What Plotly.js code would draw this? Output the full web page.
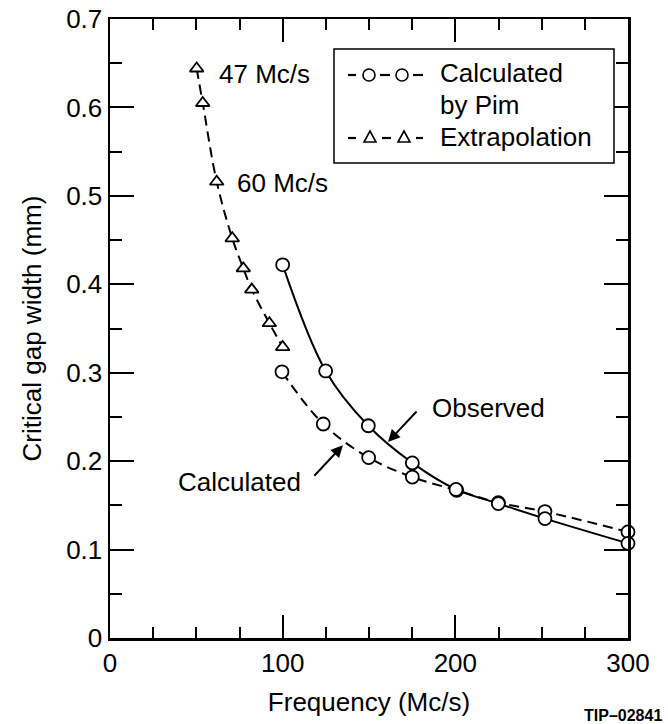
<!DOCTYPE html>
<html>
<head>
<meta charset="utf-8">
<script src="https://cdn.plot.ly/plotly-3.0.1.min.js"></script>
<style>html,body{margin:0;padding:0;background:#fff;}#chart{width:668px;height:724px;}</style>
</head>
<body>
<div id="chart"></div>
<script>
// Extrapolation (triangles)
const extrapFreq = [50.2, 53.7, 61.8, 70.8, 77.2, 82.1, 92.3, 100.0];
const extrapGap  = [0.644, 0.605, 0.516, 0.452, 0.418, 0.394, 0.356, 0.329];
// Observed (solid line, circles)
const obsFreq = [100.0, 124.9, 149.6, 175.1, 200.4, 224.9, 251.9, 300.0];
const obsGap  = [0.422, 0.302, 0.240, 0.198, 0.168, 0.152, 0.135, 0.107];
// Calculated by Pim (dashed line, circles)
const calcFreq = [99.6, 123.5, 149.8, 175.1, 200.8, 224.9, 251.9, 300.0];
const calcGap  = [0.301, 0.242, 0.204, 0.182, 0.167, 0.153, 0.143, 0.120];
// Tick labels
const xTicks = [0, 100, 200, 300];
const yTicks = [0, 0.1, 0.2, 0.3, 0.4, 0.5, 0.6, 0.7];
const yTickText = ['0', '0.1', '0.2', '0.3', '0.4', '0.5', '0.6', '0.7'];
// Legend entries
const legendNames = ['Calculated', 'by Pim', 'Extrapolation'];

const FONT = 'Liberation Sans, Arial, Helvetica, sans-serif';
const FS = 26;
const circ = {symbol: 'circle', size: 13, color: 'white', line: {color: 'black', width: 1.8}};
const tri  = {symbol: 'triangle-up', size: 12, color: 'white', line: {color: 'black', width: 1.8}};

const traces = [
  {x: calcFreq, y: calcGap, mode: 'lines+markers', name: 'Calculated by Pim', showlegend: false,
   line: {color: 'black', width: 2, dash: '10px,6px', shape: 'spline', smoothing: 1},
   marker: circ, cliponaxis: false},
  {x: extrapFreq, y: extrapGap, mode: 'lines+markers', name: 'Extrapolation', showlegend: false,
   line: {color: 'black', width: 2, dash: '10px,6px', shape: 'spline', smoothing: 1},
   marker: tri, cliponaxis: false},
  {x: obsFreq, y: obsGap, mode: 'lines+markers', name: 'Observed', showlegend: false,
   line: {color: 'black', width: 2, shape: 'spline', smoothing: 1},
   marker: circ, cliponaxis: false}
];

const axisCommon = {
  showline: true, linecolor: 'black', linewidth: 2.5, mirror: 'allticks',
  ticks: 'inside', tickwidth: 2, tickcolor: 'black',
  showgrid: false, zeroline: false, automargin: false,
  tickfont: {family: FONT, size: FS, color: 'black'}
};

// pixel -> paper helpers for the legend box
const pxX = p => (p - 110) / 518;
const pxY = p => (638 - p) / 619;

// legend sample glyphs (pixel-sized shapes anchored in paper coordinates)
function seg(x0, x1, y) {
  return {type: 'line', xref: 'paper', yref: 'paper', xsizemode: 'pixel', ysizemode: 'pixel',
    xanchor: pxX(x0), yanchor: pxY(y), x0: 0, x1: x1 - x0, y0: 0, y1: 0,
    line: {color: 'black', width: 2.2}, layer: 'above'};
}
function ring(cx, y) {
  return {type: 'circle', xref: 'paper', yref: 'paper', xsizemode: 'pixel', ysizemode: 'pixel',
    xanchor: pxX(cx), yanchor: pxY(y), x0: -6, x1: 6, y0: -6, y1: 6,
    line: {color: 'black', width: 1.6}, fillcolor: 'white', layer: 'above'};
}
function trian(cx, y) {
  return {type: 'path', xref: 'paper', yref: 'paper', xsizemode: 'pixel', ysizemode: 'pixel',
    xanchor: pxX(cx), yanchor: pxY(y), path: 'M-6,-5 L6,-5 L0,6 Z',
    line: {color: 'black', width: 1.6}, fillcolor: 'white', layer: 'above'};
}

const layout = {
  width: 668, height: 724,
  margin: {l: 110, r: 40, t: 19, b: 86},
  paper_bgcolor: 'white', plot_bgcolor: 'white',
  font: {family: FONT, size: FS, color: 'black'},
  showlegend: false,
  xaxis: Object.assign({}, axisCommon, {
    range: [0, 300], tickvals: xTicks, ticktext: xTicks.map(String), ticklen: 23,
    minor: {dtick: 25, ticks: 'inside', ticklen: 11, tickwidth: 2, tickcolor: 'black', showgrid: false},
    title: {text: 'Frequency (Mc/s)', font: {family: FONT, size: FS, color: 'black'}, standoff: 16}
  }),
  yaxis: Object.assign({}, axisCommon, {
    range: [0, 0.7], tickvals: yTicks, ticktext: yTickText, ticklen: 24,
    minor: {dtick: 0.05, ticks: 'inside', ticklen: 12, tickwidth: 2, tickcolor: 'black', showgrid: false},
    title: {text: 'Critical gap width (mm)', font: {family: FONT, size: FS, color: 'black'}, standoff: 17}
  }),
  shapes: [
    {type: 'rect', xref: 'paper', yref: 'paper', x0: pxX(334), x1: pxX(614), y0: pxY(163), y1: pxY(49),
     line: {color: 'black', width: 1.5}, fillcolor: 'white', layer: 'above'},
    seg(348, 356, 75), ring(369, 75), seg(380, 390, 75), ring(402, 75), seg(413, 423, 75),
    seg(348, 356, 138), trian(370, 137), seg(382, 391, 138), trian(404, 137), seg(416, 423, 138)
  ],
  annotations: [
    {x: pxX(438), y: pxY(73), xref: 'paper', yref: 'paper', text: legendNames[0], showarrow: false, xanchor: 'left', yanchor: 'middle'},
    {x: pxX(438), y: pxY(105), xref: 'paper', yref: 'paper', text: legendNames[1], showarrow: false, xanchor: 'left', yanchor: 'middle'},
    {x: pxX(438), y: pxY(137), xref: 'paper', yref: 'paper', text: legendNames[2], showarrow: false, xanchor: 'left', yanchor: 'middle'},
    {x: 62.0, y: 0.638, xref: 'x', yref: 'y', text: '47 Mc/s', showarrow: false, xanchor: 'left', yanchor: 'middle'},
    {x: 72.4, y: 0.5145, xref: 'x', yref: 'y', text: '60 Mc/s', showarrow: false, xanchor: 'left', yanchor: 'middle'},
    {x: 185.3, y: 0.260, xref: 'x', yref: 'y', text: 'Observed', showarrow: false, xanchor: 'left', yanchor: 'middle'},
    {x: 111.8, y: 0.176, xref: 'x', yref: 'y', text: 'Calculated', showarrow: false, xanchor: 'right', yanchor: 'middle'},
    {x: 161.0, y: 0.2217, xref: 'x', yref: 'y', text: '', showarrow: true, ax: 30, ay: -32,
     arrowhead: 2, arrowsize: 1.2, arrowwidth: 2, arrowcolor: 'black', standoff: 0},
    {x: 134.9, y: 0.218, xref: 'x', yref: 'y', text: '', showarrow: true, ax: -30, ay: 32,
     arrowhead: 2, arrowsize: 1.2, arrowwidth: 2, arrowcolor: 'black', standoff: 0},
    {x: pxX(664), y: pxY(715), xref: 'paper', yref: 'paper', text: '<b>TIP–02841</b>', showarrow: false,
     xanchor: 'right', yanchor: 'middle', font: {size: 16}}
  ]
};

Plotly.newPlot('chart', traces, layout, {staticPlot: true, displayModeBar: false});
</script>
</body>
</html>
